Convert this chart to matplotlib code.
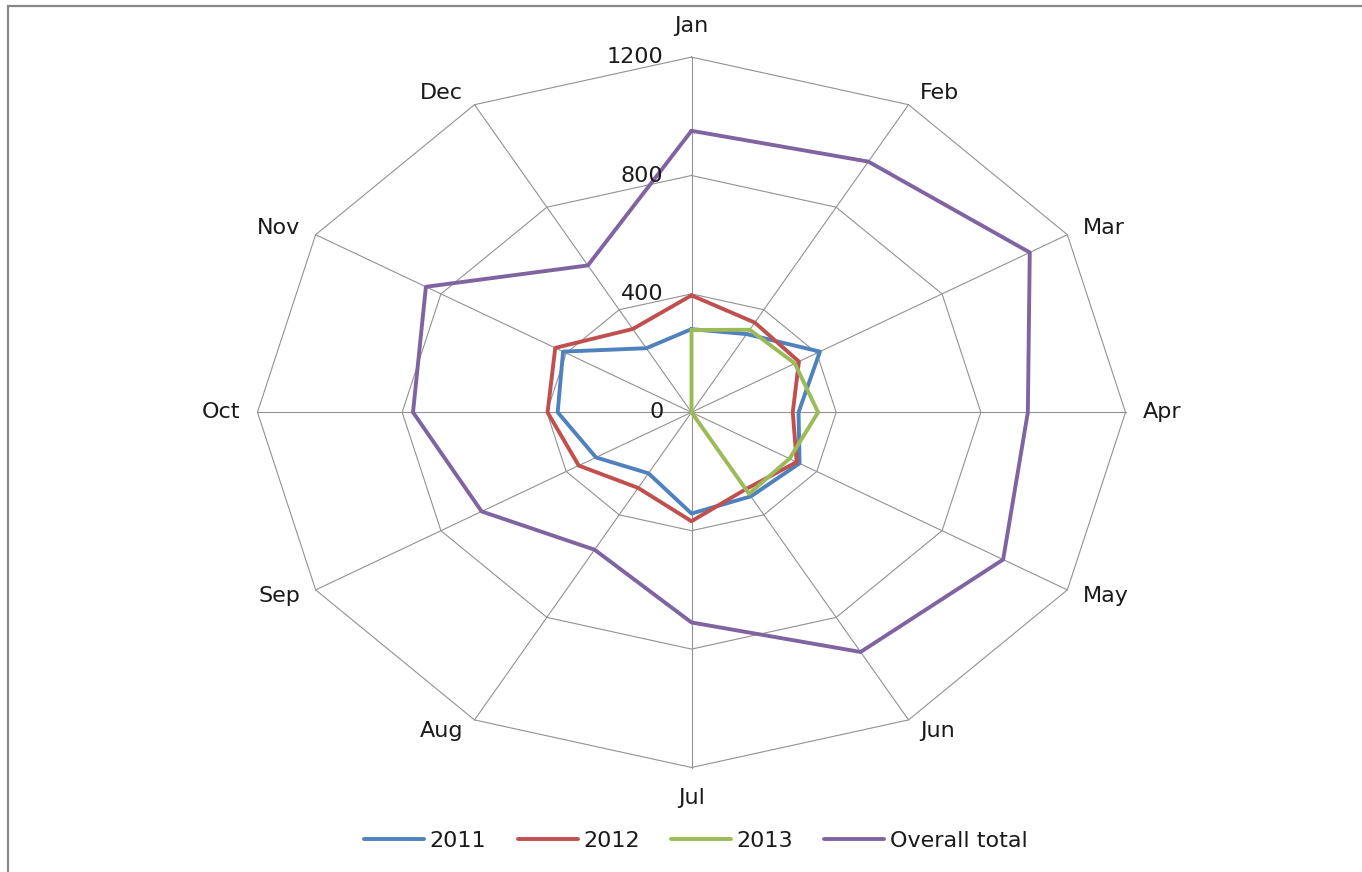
import numpy as np
import matplotlib
matplotlib.use("Agg")
import matplotlib.pyplot as plt
from matplotlib.lines import Line2D

plt.rcParams["font.family"] = ["DejaVu Sans"]

# Monthly figures per year and the overall total
months = ["Jan", "Feb", "Mar", "Apr", "May", "Jun",
          "Jul", "Aug", "Sep", "Oct", "Nov", "Dec"]
sales_2011 = [281, 305, 410, 296, 345, 328, 342, 238, 305, 370, 410, 250]
sales_2012 = [395, 350, 343, 280, 336, 300, 368, 295, 360, 398, 435, 325]
sales_2013 = [278, 322, 330, 350, 313, 318, 0, 0, 0, 0, 0, 0]
overall_total = [951, 978, 1080, 930, 995, 935, 710, 536, 670, 770, 848, 573]

series_names = ["2011", "2012", "2013", "Overall total"]
series_values = [sales_2011, sales_2012, sales_2013, overall_total]
series_colors = ["#4F81BD", "#C0504D", "#9BBB59", "#8064A2"]
r_ticks = [0, 400, 800, 1200]

W, H = 1362, 872
fig = plt.figure(figsize=(W / 100, H / 100), dpi=100)
fig.patch.set_facecolor("white")

# plot area (pixel box of the radar), stretched horizontally
cx, cy, rx, ry = 691.5, 412.3, 434.0, 355.2
ax = fig.add_axes([(cx - rx) / W, 1 - (cy + ry) / H, 2 * rx / W, 2 * ry / H],
                  projection="polar")
ax.set_aspect("auto")
ax.set_theta_zero_location("N")
ax.set_theta_direction(-1)
ax.set_ylim(0, r_ticks[-1])
ax.grid(False)
ax.spines["polar"].set_visible(False)
ax.set_xticks([])
ax.set_yticks([])
ax.patch.set_alpha(0)

n = len(months)
theta = np.arange(n) * 2 * np.pi / n
theta_closed = np.append(theta, theta[0])

grid_color = "#929292"
# polygon rings
for r in r_ticks[1:]:
    ax.plot(theta_closed, [r] * (n + 1), color=grid_color, lw=0.8,
            clip_on=False, zorder=1)
# spokes
for th in theta:
    ax.plot([th, th], [0, r_ticks[-1]], color=grid_color, lw=0.8,
            clip_on=False, zorder=1)

# data series
handles = []
for name, vals, col in zip(series_names, series_values, series_colors):
    vals_closed = list(vals) + [vals[0]]
    (ln,) = ax.plot(theta_closed, vals_closed, color=col, lw=2.8,
                    solid_joinstyle="round", solid_capstyle="round",
                    clip_on=False, zorder=3, label=name)
    handles.append(ln)

text_color = "#1A1A1A"
fs = 16

# radial value labels along the first spoke
for v in r_ticks:
    ax.annotate(str(v), xy=(0, v), xytext=(-28, 0), textcoords="offset pixels",
                ha="right", va="center", fontsize=fs, color=text_color,
                annotation_clip=False)

# category labels around the outside
for lab, th in zip(months, theta):
    s, c = np.sin(th), np.cos(th)
    if abs(s) < 0.1:
        off = (0, 31 * np.sign(c))
        ha = "center"
    else:
        off = (6 * np.sign(s) + 11 * s, 13 * c)
        ha = "left" if s > 0 else "right"
    ax.annotate(lab, xy=(th, r_ticks[-1]), xytext=off,
                textcoords="offset pixels", ha=ha, va="center",
                fontsize=fs, color=text_color, annotation_clip=False)

# legend along the bottom
fig.legend(handles, series_names, loc="center",
           bbox_to_anchor=(695.8 / W, 1 - 841 / H), ncol=4, frameon=False,
           handlelength=2.7, handletextpad=0.25, columnspacing=1.4,
           fontsize=fs, labelcolor=text_color)

# chart-area border (left and top edges)
x0 = 7.5 / W
ytop = 1 - 5.7 / H
fig.add_artist(Line2D([x0, x0, 1.02], [-0.02, ytop, ytop],
                      transform=fig.transFigure, color="#898989", lw=1.6,
                      solid_joinstyle="miter"))

fig.savefig("out.png", dpi=100, facecolor="white")
